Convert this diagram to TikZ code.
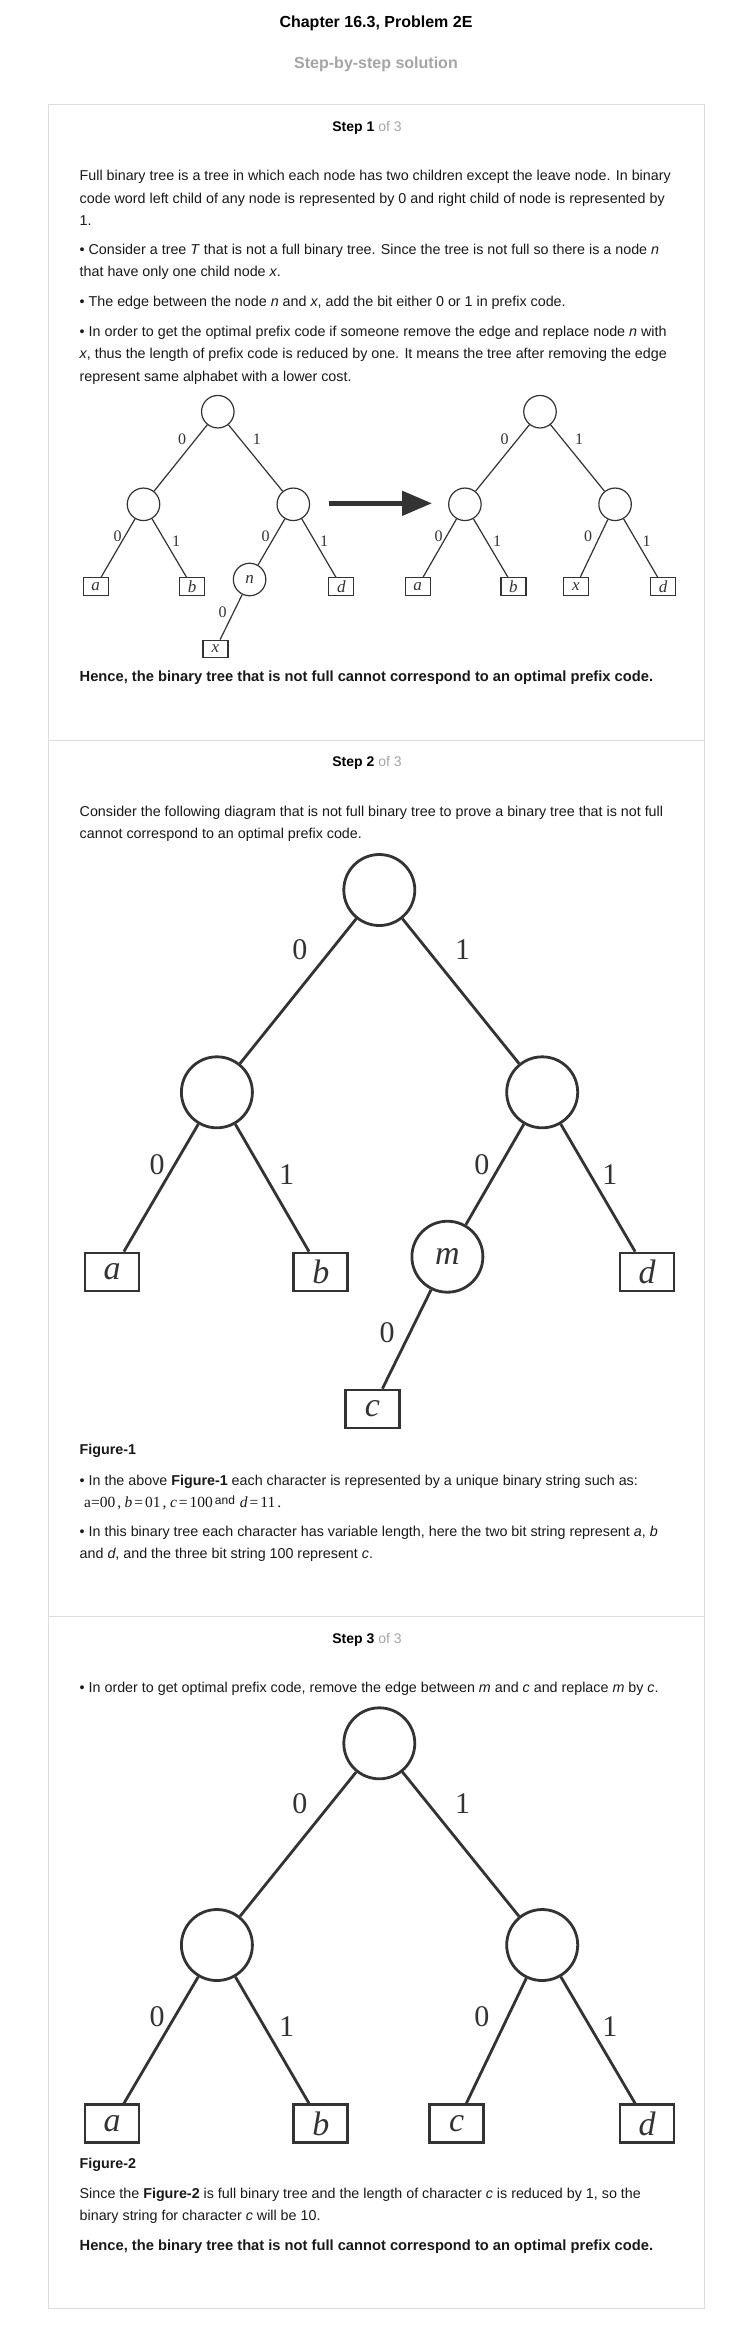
\documentclass[tikz,border=0pt]{standalone}
\usepackage{fontspec}
\setmainfont{Liberation Sans}
\newfontfamily\treefont{Liberation Serif}
\usetikzlibrary{arrows.meta}

\definecolor{boxgray}{RGB}{221,221,221}
\definecolor{inkgray}{RGB}{51,51,51}
\definecolor{bodytext}{RGB}{25,25,25}
\definecolor{softgray}{RGB}{165,165,165}

\tikzset{
  line/.style={anchor=base west, inner sep=0pt, text=bodytext, font=\fontsize{14.3}{17}\selectfont},
  boldline/.style={line, font=\fontsize{14.3}{17}\selectfont\bfseries},
  hence/.style={line, font=\fontsize{14.7}{17}\selectfont\bfseries},
  steplabel/.style={anchor=base, inner sep=0pt, text=black, font=\fontsize{14}{17}\selectfont},
  smallnode/.style={circle, draw=inkgray, line width=1.2pt, minimum size=32.5pt, inner sep=0pt,
    font=\treefont\itshape\fontsize{17}{18}\selectfont, text=inkgray},
  smallleaf/.style={rectangle, draw=inkgray, line width=1.2pt, minimum width=25pt, minimum height=17.5pt,
    inner sep=0pt, font=\treefont\itshape\fontsize{17}{18}\selectfont, text=inkgray},
  smalledge/.style={draw=inkgray, line width=1.2pt},
  smalllbl/.style={inner sep=0pt, text=inkgray, font=\treefont\fontsize{16}{17}\selectfont},
  bignode/.style={circle, draw=inkgray, line width=2.8pt, minimum size=71pt, inner sep=0pt,
    font=\treefont\itshape\fontsize{34}{36}\selectfont, text=inkgray},
  bigleaf/.style={rectangle, draw=inkgray, line width=2.8pt, minimum width=54pt, minimum height=38pt,
    inner sep=0pt, font=\treefont\itshape\fontsize{34}{36}\selectfont, text=inkgray},
  bigedge/.style={draw=inkgray, line width=2.8pt},
  biglbl/.style={inner sep=0pt, text=inkgray, font=\treefont\fontsize{30}{32}\selectfont}
}

\begin{document}
\begin{tikzpicture}[x=1pt, y=-1pt]
  \useasboundingbox (0,0) rectangle (752,2335);
  \fill[white] (0,0) rectangle (752,2335);

  % header
  \node [anchor=base, inner sep=0pt, font=\fontsize{16}{18}\selectfont\bfseries] (title) at (376,27) {Chapter 16.3, Problem 2E};
  \node [anchor=base, inner sep=0pt, text=softgray, font=\fontsize{16}{18}\selectfont\bfseries] (subtitle) at (376,68) {Step-by-step solution};

  % frame and step separators
  \draw [boxgray, line width=1pt] (48.5,104) rectangle (704,2308);
  \draw [boxgray, line width=1pt] (48.5,740.5) -- (704,740.5);
  \draw [boxgray, line width=1pt] (48.5,1616.5) -- (704,1616.5);

  % step 1
  \node [steplabel] (step1) at (367,131.5) {\textbf{Step 1} \textcolor{softgray}{of 3}};
  \node [line] (s1l1) at (79.5,180.7) {Full binary tree is a tree in which each node has two children except the leave node. In binary};
  \node [line] (s1l2) at (79.5,203.3) {code word left child of any node is represented by 0 and right child of node is represented by};
  \node [line] (s1l3) at (79.5,225.8) {1.};
  \node [line] (s1l4) at (79.5,254) {• Consider a tree \textit{T} that is not a full binary tree. Since the tree is not full so there is a node \textit{n}};
  \node [line] (s1l5) at (79.5,276.5) {that have only one child node \textit{x}.};
  \node [line] (s1l6) at (79.5,306.5) {• The edge between the node \textit{n} and \textit{x}, add the bit either 0 or 1 in prefix code.};
  \node [line] (s1l7) at (79.5,336) {• In order to get the optimal prefix code if someone remove the edge and replace node \textit{n} with};
  \node [line] (s1l8) at (79.5,358.5) {\textit{x}, thus the length of prefix code is reduced by one. It means the tree after removing the edge};
  \node [line] (s1l9) at (79.5,381) {represent same alphabet with a lower cost.};

  % tree before
  \node [smallnode] (r1) at (217.8,411.7) {};
  \node [smallnode] (p1) at (143.5,504.3) {};
  \node [smallnode] (q1) at (293.3,504.3) {};
  \node [smallleaf] (a1) at (95.7,586.5) {a};
  \node [smallleaf] (b1) at (192,586.5) {b};
  \node [smallnode] (n1) at (249.6,579.5) {n};
  \node [smallleaf] (d1) at (341.3,586.5) {d};
  \node [smallleaf] (x1) at (215.5,649) {x};
  \draw [smalledge] (r1) -- (p1);
  \draw [smalledge] (r1) -- (q1);
  \draw [smalledge] (p1) -- (a1);
  \draw [smalledge] (p1) -- (b1);
  \draw [smalledge] (q1) -- (n1);
  \draw [smalledge] (q1) -- (d1);
  \draw [smalledge] (n1) -- (x1);
  \node [smalllbl] (e1) at (182,439.3) {0};
  \node [smalllbl] (e2) at (256.8,439.3) {1};
  \node [smalllbl] (e3) at (117.5,536.7) {0};
  \node [smalllbl] (e4) at (176,541.7) {1};
  \node [smalllbl] (e5) at (265.5,536.7) {0};
  \node [smalllbl] (e6) at (324,541.7) {1};
  \node [smalllbl] (e7) at (222.5,612) {0};

  % arrow
  \coordinate (arrfrom) at (329,503.3);
  \coordinate (arrto) at (432,503.3);
  \draw [inkgray, line width=5pt, -{Triangle[length=30pt,width=24pt]}] (arrfrom) -- (arrto);

  % tree after
  \node [smallnode] (r2) at (540,411.7) {};
  \node [smallnode] (p2) at (464.9,504.3) {};
  \node [smallnode] (q2) at (615.1,504.3) {};
  \node [smallleaf] (a2) at (417.7,586.5) {a};
  \node [smallleaf] (b2) at (513.4,586.5) {b};
  \node [smallleaf] (x2) at (575.8,586.5) {x};
  \node [smallleaf] (d2) at (663.1,586.5) {d};
  \draw [smalledge] (r2) -- (p2);
  \draw [smalledge] (r2) -- (q2);
  \draw [smalledge] (p2) -- (a2);
  \draw [smalledge] (p2) -- (b2);
  \draw [smalledge] (q2) -- (x2);
  \draw [smalledge] (q2) -- (d2);
  \node [smalllbl] (f1) at (504.5,439.3) {0};
  \node [smalllbl] (f2) at (579,439.3) {1};
  \node [smalllbl] (f3) at (438.5,536.7) {0};
  \node [smalllbl] (f4) at (497,541.7) {1};
  \node [smalllbl] (f5) at (588,536.7) {0};
  \node [smalllbl] (f6) at (646.5,541.7) {1};

  \node [hence] (s1end) at (79.5,681.7) {Hence, the binary tree that is not full cannot correspond to an optimal prefix code.};

  % step 2
  \node [steplabel] (step2) at (367,766.7) {\textbf{Step 2} \textcolor{softgray}{of 3}};
  \node [line] (s2l1) at (79.5,816) {Consider the following diagram that is not full binary tree to prove a binary tree that is not full};
  \node [line] (s2l2) at (79.5,838.5) {cannot correspond to an optimal prefix code.};

  % figure 1
  \node [bignode] (g1r) at (379.3,890) {};
  \node [bignode] (g1p) at (216.9,1092.3) {};
  \node [bignode] (g1q) at (542.2,1092.3) {};
  \node [bigleaf] (g1a) at (112,1272) {a};
  \node [bigleaf] (g1b) at (320.8,1272) {b};
  \node [bignode] (g1m) at (447.4,1256.7) {m};
  \node [bigleaf] (g1d) at (647,1272) {d};
  \node [bigleaf] (g1c) at (372.4,1409) {c};
  \draw [bigedge] (g1r) -- (g1p);
  \draw [bigedge] (g1r) -- (g1q);
  \draw [bigedge] (g1p) -- (g1a);
  \draw [bigedge] (g1p) -- (g1b);
  \draw [bigedge] (g1q) -- (g1m);
  \draw [bigedge] (g1q) -- (g1d);
  \draw [bigedge] (g1m) -- (g1c);
  \node [biglbl] (h1) at (299.8,950) {0};
  \node [biglbl] (h2) at (462.7,950) {1};
  \node [biglbl] (h3) at (157,1165) {0};
  \node [biglbl] (h4) at (286.7,1175) {1};
  \node [biglbl] (h5) at (481.9,1165) {0};
  \node [biglbl] (h6) at (609.9,1175) {1};
  \node [biglbl] (h7) at (387.2,1332.7) {0};

  \node [boldline] (fig1) at (79.5,1454.3) {Figure-1};
  \node [line] (s2l3) at (79.5,1485.7) {• In the above \textbf{Figure-1} each character is represented by a unique binary string such as:};
  \node [line] (s2l4) at (84,1507.3) {{\treefont\fontsize{15.5}{17}\selectfont a=00\kern2pt,\kern3.5pt\textit{b}\kern2pt=\kern2pt01\kern2pt,\kern3.5pt\textit{c}\kern2pt=\kern2pt100}\kern2pt\raisebox{3pt}{\fontsize{12}{14}\selectfont and}\kern5pt{\treefont\fontsize{15.5}{17}\selectfont\textit{d}\kern2pt=\kern2pt11\kern2pt.}};
  \node [line] (s2l5) at (79.5,1536) {• In this binary tree each character has variable length, here the two bit string represent \textit{a}, \textit{b}};
  \node [line] (s2l6) at (79.5,1558.5) {and \textit{d}, and the three bit string 100 represent \textit{c}.};

  % step 3
  \node [steplabel] (step3) at (367,1643.3) {\textbf{Step 3} \textcolor{softgray}{of 3}};
  \node [line] (s3l1) at (79.5,1692.7) {• In order to get optimal prefix code, remove the edge between \textit{m} and \textit{c} and replace \textit{m} by \textit{c}.};

  % figure 2
  \node [bignode] (g2r) at (379.3,1743.3) {};
  \node [bignode] (g2p) at (216.9,1945) {};
  \node [bignode] (g2q) at (542.2,1945) {};
  \node [bigleaf] (g2a) at (112,2123.7) {a};
  \node [bigleaf] (g2b) at (320.8,2123.7) {b};
  \node [bigleaf] (g2c) at (456.6,2123.7) {c};
  \node [bigleaf] (g2d) at (647,2123.7) {d};
  \draw [bigedge] (g2r) -- (g2p);
  \draw [bigedge] (g2r) -- (g2q);
  \draw [bigedge] (g2p) -- (g2a);
  \draw [bigedge] (g2p) -- (g2b);
  \draw [bigedge] (g2q) -- (g2c);
  \draw [bigedge] (g2q) -- (g2d);
  \node [biglbl] (k1) at (299.8,1803.3) {0};
  \node [biglbl] (k2) at (462.7,1803.3) {1};
  \node [biglbl] (k3) at (157,2016.7) {0};
  \node [biglbl] (k4) at (286.7,2026.7) {1};
  \node [biglbl] (k5) at (481.9,2016.7) {0};
  \node [biglbl] (k6) at (609.9,2026.7) {1};

  \node [boldline] (fig2) at (79.5,2168.3) {Figure-2};
  \node [line] (s3l2) at (79.5,2198.3) {Since the \textbf{Figure-2} is full binary tree and the length of character \textit{c} is reduced by 1, so the};
  \node [line] (s3l3) at (79.5,2220.8) {binary string for character \textit{c} will be 10.};
  \node [hence] (s3end) at (79.5,2250) {Hence, the binary tree that is not full cannot correspond to an optimal prefix code.};
\end{tikzpicture}
\end{document}
